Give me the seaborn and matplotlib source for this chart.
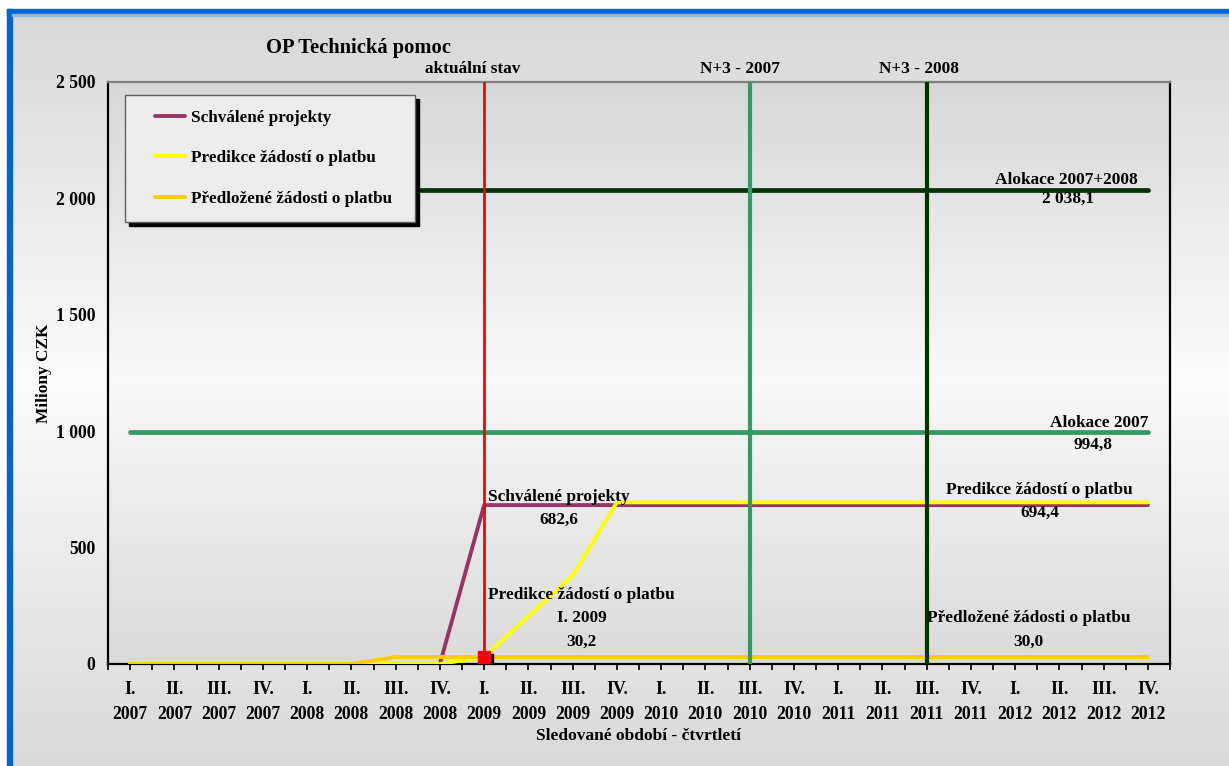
import numpy as np
import pandas as pd
import matplotlib
matplotlib.use("Agg")
import matplotlib.pyplot as plt
import seaborn as sns
from matplotlib.legend_handler import HandlerLine2D
from matplotlib.lines import Line2D
from matplotlib.patches import Rectangle
import matplotlib.transforms as mtransforms

# ---------------- data ----------------
quarters = ["I.", "II.", "III.", "IV.", "I.", "II.", "III.", "IV.",
            "I.", "II.", "III.", "IV.", "I.", "II.", "III.", "IV.",
            "I.", "II.", "III.", "IV.", "I.", "II.", "III.", "IV."]
years = ["2007", "2007", "2007", "2007", "2008", "2008", "2008", "2008",
         "2009", "2009", "2009", "2009", "2010", "2010", "2010", "2010",
         "2011", "2011", "2011", "2011", "2012", "2012", "2012", "2012"]

schvalene = [0, 0, 0, 0, 0, 0, 0, 0,
             682.6, 682.6, 682.6, 682.6, 682.6, 682.6, 682.6, 682.6,
             682.6, 682.6, 682.6, 682.6, 682.6, 682.6, 682.6, 682.6]
predikce = [0, 0, 0, 0, 0, 0, 0, 0,
            30.2, 205, 380, 694.4, 694.4, 694.4, 694.4, 694.4,
            694.4, 694.4, 694.4, 694.4, 694.4, 694.4, 694.4, 694.4]
predlozene = [0, 0, 0, 0, 0, 0, 30.0, 30.0,
              30.0, 30.0, 30.0, 30.0, 30.0, 30.0, 30.0, 30.0,
              30.0, 30.0, 30.0, 30.0, 30.0, 30.0, 30.0, 30.0]
alokace_2007 = [994.8] * 24
alokace_2007_2008 = [2038.1] * 24

aktualni_idx = 8
aktualni_value = 30.2
n3_2007_idx = 14
n3_2008_idx = 18

yticks = [0, 500, 1000, 1500, 2000, 2500]
ytick_labels = ["0", "500", "1 000", "1 500", "2 000", "2 500"]

series_names = ["Schválené projekty", "Predikce žádostí o platbu",
                "Předložené žádosti o platbu"]

# ---------------- style ----------------
sns.set_theme(style="white")
plt.rcParams["font.family"] = ["Liberation Serif", "DejaVu Serif"]
plt.rcParams["font.weight"] = "bold"
for k in ["text.color", "axes.labelcolor", "xtick.color", "ytick.color"]:
    plt.rcParams[k] = "black"

W, H = 1229, 766
fig = plt.figure(figsize=(W / 100, H / 100), dpi=100)
fig.patch.set_facecolor("white")

def px_rect(x0, y0, x1, y1):
    return [x0 / W, 1 - y1 / H, (x1 - x0) / W, (y1 - y0) / H]

def grad(ys, stops):
    ys_s = [s[0] for s in stops]
    vs = [s[1] for s in stops]
    return np.interp(ys, ys_s, vs)

bg_ax = fig.add_axes(px_rect(12, 14, W, H), zorder=-10)
rows = np.arange(14, H)
g = grad(rows, [(14, 0.845), (380, 0.985), (H, 0.85)])
img = np.repeat(g[:, None], 2, axis=1)
bg_ax.imshow(np.dstack([img, img, img]), aspect="auto", extent=(0, 1, 0, 1))
bg_ax.axis("off")

L, R, T, B = 108, 1170, 82, 664
pbg = fig.add_axes(px_rect(L, T, R, B), zorder=-5)
rows = np.arange(T, B)
g = grad(rows, [(T, 0.845), (380, 0.975), (B, 0.855)])
img = np.repeat(g[:, None], 2, axis=1)
pbg.imshow(np.dstack([img, img, img]), aspect="auto", extent=(0, 1, 0, 1))
pbg.axis("off")

ax = fig.add_axes(px_rect(L, T, R, B), zorder=1)
ax.patch.set_alpha(0)

x = np.arange(len(quarters))
c_purple = "#993366"
c_yellow = "#ffff00"
c_orange = "#ffcc00"
c_green = "#339966"
c_dgreen = "#003300"
c_red = "#ff0000"
lw = 2.8

df = pd.DataFrame({"x": x, "schvalene": schvalene, "predikce": predikce,
                   "predlozene": predlozene, "alok07": alokace_2007,
                   "alok0708": alokace_2007_2008})

sns.lineplot(data=df, x="x", y="alok0708", color=c_dgreen, lw=3.4, ax=ax,
             zorder=2, solid_capstyle="round")
sns.lineplot(data=df, x="x", y="alok07", color=c_green, lw=3.4, ax=ax,
             zorder=2, solid_capstyle="round")
sns.lineplot(data=df, x="x", y="schvalene", color=c_purple, lw=lw, ax=ax,
             zorder=3, label=series_names[0])
sns.lineplot(data=df, x="x", y="predikce", color=c_yellow, lw=lw, ax=ax,
             zorder=4, label=series_names[1])
sns.lineplot(data=df, x="x", y="predlozene", color=c_orange, lw=lw, ax=ax,
             zorder=5, label=series_names[2])

ax.axvline(aktualni_idx, color=c_red, lw=2.0, zorder=6)
ax.axvline(n3_2007_idx, color=c_green, lw=3.0, zorder=6)
ax.axvline(n3_2008_idx, color=c_dgreen, lw=3.0, zorder=6)

shadow = mtransforms.offset_copy(ax.transData, fig=fig, x=3, y=-3, units="dots")
ax.plot([aktualni_idx], [aktualni_value], marker="s", ms=8.5, color="black",
        ls="none", transform=shadow, zorder=7)
ax.plot([aktualni_idx], [aktualni_value], marker="s", ms=8.5, color=c_red,
        ls="none", zorder=8)

ax.set_xlim(-0.5, len(quarters) - 0.5)
ax.set_ylim(0, 2500)

ax.set_xticks(x)
ax.set_xticklabels([f"{q}\n{y}" for q, y in zip(quarters, years)],
                   fontsize=12.7, fontweight="bold", linespacing=1.62)
ax.set_xticks(np.arange(-0.5, len(quarters), 1.0), minor=True)
ax.tick_params(axis="x", which="both", direction="out", length=4, width=1.2,
               color="black", bottom=True, pad=8)
ax.set_yticks(yticks)
ax.set_yticklabels(ytick_labels, fontsize=12.7, fontweight="bold")
ax.tick_params(axis="y", length=0, pad=9)

for s in ["left", "bottom", "right"]:
    ax.spines[s].set_color("black")
    ax.spines[s].set_linewidth(1.6)
ax.spines["top"].set_color("#7f7f7f")
ax.spines["top"].set_linewidth(1.6)
for s in ax.spines.values():
    s.set_visible(True)

ax.set_xlabel("Sledované období - čtvrtletí", fontsize=12.5, fontweight="bold",
              labelpad=4)
ax.set_ylabel("Miliony CZK", fontsize=12.4, fontweight="bold", labelpad=3)

def t(xp, yp, s, size=12.4):
    ax.text(xp, yp, s, ha="center", va="center", fontsize=size,
            fontweight="bold", clip_on=False, zorder=10)

t(5.15, 2648, "OP Technická pomoc", size=14.8)
t(7.75, 2556, "aktuální stav")
t(13.78, 2556, "N+3 - 2007")
t(17.83, 2556, "N+3 - 2008")

t(21.15, 2079, "Alokace 2007+2008")
t(21.2, 1997, "2 038,1")
t(21.9, 1035, "Alokace 2007")
t(21.77, 941, "994,8")
t(20.55, 747, "Predikce žádostí o platbu")
t(20.55, 649, "694,4")
t(20.3, 198, "Předložené žádosti o platbu")
t(20.3, 94, "30,0")
t(9.68, 717, "Schválené projekty")
t(9.68, 618, "682,6")
t(10.2, 296, "Predikce žádostí o platbu")
t(10.2, 198, "I. 2009")
t(10.2, 94, "30,2")

class ShiftHandler(HandlerLine2D):
    def get_xdata(self, legend, xdescent, ydescent, width, height, fontsize):
        xd, xdm = super().get_xdata(legend, xdescent, ydescent, width,
                                    height, fontsize)
        xd = np.asarray(xd, dtype=float)
        span = xd[-1] - xd[0]
        xd = np.linspace(xd[0] + 0.32 * span, xd[-1] - 0.05 * span, len(xd))
        return xd, xdm

handles, labels = ax.get_legend_handles_labels()
leg = ax.legend(handles[:3], labels[:3], loc="upper left",
                bbox_to_anchor=(0.016, 0.0, 0.273, 0.978), mode="expand",
                borderaxespad=0,
                prop={"family": "Liberation Serif", "weight": "bold", "size": 12.3},
                labelspacing=1.42, handlelength=2.75, handletextpad=0.2,
                borderpad=0.9, frameon=True, fancybox=False,
                shadow={"color": "black", "alpha": 1, "ox": 3, "oy": -3},
                handler_map={Line2D: ShiftHandler()})
leg.get_frame().set_facecolor("#ececec")
leg.get_frame().set_edgecolor("#606060")
leg.get_frame().set_linewidth(1.0)
leg.set_zorder(20)
for lh in leg.get_lines():
    lh.set_linewidth(2.8)

fig.patches.append(Rectangle((7 / W, 0), 5 / W, 1 - 9 / H, transform=fig.transFigure,
                             color="#0066cc", zorder=50))
fig.patches.append(Rectangle((7 / W, 1 - 14 / H), 1, 5 / H, transform=fig.transFigure,
                             color="#0066cc", zorder=50))
fig.patches.append(Rectangle((12 / W, 1 - 15.5 / H), 1, 1.5 / H, transform=fig.transFigure,
                             color="#8fb4e0", zorder=50))

fig.savefig("out.png", dpi=100, facecolor="white")
